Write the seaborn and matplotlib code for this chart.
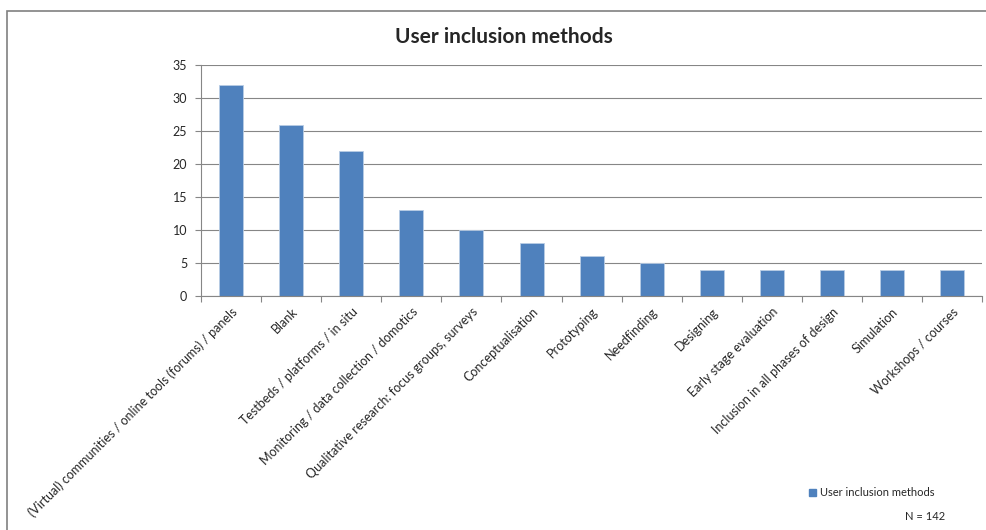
import numpy as np
import pandas as pd
import matplotlib.pyplot as plt
import seaborn as sns
from matplotlib.patches import Patch, Rectangle

# Data
categories = [
    '(Virtual) communities / online tools (forums) / panels',
    'Blank',
    'Testbeds / platforms / in situ',
    'Monitoring / data collection / domotics',
    'Qualitative research: focus groups, surveys',
    'Conceptualisation',
    'Prototyping',
    'Needfinding',
    'Designing',
    'Early stage evaluation',
    'Inclusion in all phases of design',
    'Simulation',
    'Workshops / courses',
]
counts = [32, 26, 22, 13, 10, 8, 6, 5, 4, 4, 4, 4, 4]
series_name = 'User inclusion methods'
y_ticks = [0, 5, 10, 15, 20, 25, 30, 35]

df = pd.DataFrame({'method': categories, 'count': counts})

sns.set_style('white')
plt.rcParams['font.family'] = ['Lato', 'DejaVu Sans']

BAR_COLOR = '#4F81BD'
GRID_COLOR = '#868686'

fig = plt.figure(figsize=(9.86, 5.30), dpi=100)
ax = fig.add_axes([0.204, 0.4415, 0.792, 0.4355])

sns.barplot(data=df, x='method', y='count', color=BAR_COLOR, width=0.4,
            edgecolor='#B9CDE5', linewidth=0.6, saturation=1, ax=ax)

ax.set_ylim(0, 35)
ax.set_xlim(-0.5, len(categories) - 0.5)
ax.set_yticks(y_ticks)
ax.yaxis.grid(True, color=GRID_COLOR, linewidth=0.8)
ax.set_axisbelow(True)
ax.set_xlabel('')
ax.set_ylabel('')

# Spines
for side in ['top', 'right']:
    ax.spines[side].set_visible(False)
for side in ['left', 'bottom']:
    ax.spines[side].set_color(GRID_COLOR)
    ax.spines[side].set_linewidth(0.8)

# Tick marks between categories
ax.set_xticks(np.arange(len(categories)))
ax.set_xticklabels(categories, rotation=45, ha='right', rotation_mode='anchor',
                   fontsize=9)
ax.set_xticks(np.arange(len(categories) + 1) - 0.5, minor=True)
ax.tick_params(axis='x', which='major', length=0, pad=7)
ax.tick_params(axis='x', which='minor', length=4, color=GRID_COLOR, width=0.8,
               direction='out', bottom=True)
ax.tick_params(axis='y', length=4, color=GRID_COLOR, width=0.8, direction='out',
               left=True, labelsize=9, pad=6)

fig.text(0.511, 0.93, 'User inclusion methods', ha='center', va='center',
         fontsize=15, fontweight='bold')

# Legend
handle = Patch(facecolor=BAR_COLOR, edgecolor=BAR_COLOR, label=series_name)
fig.legend(handles=[handle], loc='center left', bbox_to_anchor=(0.81, 0.07),
           frameon=False, fontsize=8, handlelength=0.7, handleheight=0.7,
           handletextpad=0.3)
fig.text(0.918, 0.025, 'N = 142', ha='left', va='center', fontsize=8)

# Outer chart border
fig.patches.append(Rectangle((0.007, -0.02), 1.1, 0.999, transform=fig.transFigure,
                             fill=False, edgecolor='#808080', linewidth=1.2))

fig.savefig('out.png', dpi=100)
